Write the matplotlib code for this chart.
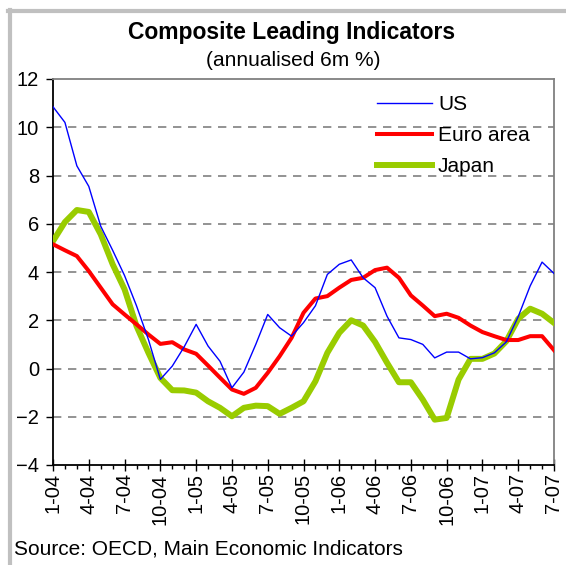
import matplotlib
matplotlib.use("Agg")
import matplotlib.pyplot as plt
from matplotlib.lines import Line2D
import numpy as np

plt.rcParams['font.family'] = ['Liberation Sans', 'DejaVu Sans']

# monthly readings, Jan 2004 .. Jul 2007
months = np.arange(43)
tick_labels = ['1-04', '4-04', '7-04', '10-04', '1-05', '4-05', '7-05', '10-05',
               '1-06', '4-06', '7-06', '10-06', '1-07', '4-07', '7-07']

us = [10.85, 10.2, 8.4, 7.55, 5.9, 4.9, 3.85, 2.6, 1.2, -0.45,
      0.1, 0.9, 1.83, 0.93, 0.3, -0.8, -0.15, 1.0, 2.24, 1.69,
      1.34, 1.9, 2.6, 3.9, 4.32, 4.5, 3.76, 3.35, 2.17, 1.27,
      1.2, 1.0, 0.44, 0.68, 0.68, 0.4, 0.45, 0.65, 1.1, 2.15,
      3.42, 4.41, 3.94]
euro = [5.15, 4.9, 4.66, 4.04, 3.35, 2.66, 2.24, 1.83, 1.41, 1.02,
        1.09, 0.79, 0.61, 0.12, -0.38, -0.87, -1.05, -0.8, -0.18, 0.51,
        1.27, 2.31, 2.9, 3.0, 3.35, 3.67, 3.76, 4.08, 4.18, 3.76,
        3.03, 2.61, 2.17, 2.27, 2.1, 1.78, 1.51, 1.34, 1.18, 1.18,
        1.34, 1.34, 0.76]
japan = [5.28, 6.07, 6.57, 6.49, 5.56, 4.32, 3.28, 1.76, 0.65, -0.39,
         -0.9, -0.91, -1.0, -1.36, -1.63, -1.98, -1.63, -1.54, -1.56, -1.88,
         -1.63, -1.36, -0.53, 0.65, 1.48, 2.0, 1.78, 1.1, 0.24, -0.57,
         -0.57, -1.29, -2.12, -2.05, -0.46, 0.4, 0.4, 0.62, 1.13, 2.06,
         2.48, 2.27, 1.89]

W, H = 566, 565
fig = plt.figure(figsize=(W / 100, H / 100), dpi=100)

# outer frame (grey, only top and left visible)
fig.add_artist(Line2D([8 / W, 1], [1 - 11 / H, 1 - 11 / H], color='#c0c0c0', lw=3))
fig.add_artist(Line2D([10 / W, 10 / W], [1 - 10 / H, 0], color='#c0c0c0', lw=3))

ax = fig.add_axes([53 / W, 1 - 465 / H, (554 - 53) / W, (465 - 79) / H])

ax.plot(months, us, color='#0000ff', lw=1.0, label='US', zorder=5)
ax.plot(months, euro, color='#ff0000', lw=2.9, label='Euro area', zorder=4)
ax.plot(months, japan, color='#99cc00', lw=4.3, label='Japan', zorder=3)

ax.set_xlim(0, 42)
ax.set_ylim(-4, 12)
ax.set_yticks(np.arange(-4, 13, 2))
ax.set_xticks(np.arange(0, 43, 3))
ax.set_xticklabels(tick_labels, rotation=90)
ax.set_xticks(months, minor=True)

for v in np.arange(-2, 12, 2):
    ax.axhline(v, color='#808080', lw=1.2, dashes=(5, 4), zorder=1)

ax.tick_params(axis='y', direction='out', length=5, width=1, labelsize=14.5, pad=5)
ax.tick_params(axis='x', which='major', direction='inout', length=8, width=1,
               labelsize=14.5, pad=2)
ax.tick_params(axis='x', which='minor', direction='out', length=3, width=1)

ax.spines['left'].set_color('black')
ax.spines['bottom'].set_color('black')
ax.spines['top'].set_color('#808080')
ax.spines['right'].set_color('#808080')
for s in ax.spines.values():
    s.set_linewidth(1.3)

leg = ax.legend(loc='upper left', bbox_to_anchor=(0.63, 0.98), frameon=False,
                fontsize=15, handlelength=2.64, handletextpad=0.29,
                labelspacing=0.58, borderaxespad=0)

fig.text(292 / W, 1 - 32 / H, 'Composite Leading Indicators', ha='center',
         va='center', fontsize=16.5, fontweight='bold')
fig.text(293 / W, 1 - 61 / H, '(annualised 6m %)', ha='center', va='center',
         fontsize=15)
fig.text(14 / W, 1 - 549 / H, 'Source: OECD, Main Economic Indicators',
         ha='left', va='center', fontsize=15)

fig.savefig('out.png', dpi=100, facecolor='white')
